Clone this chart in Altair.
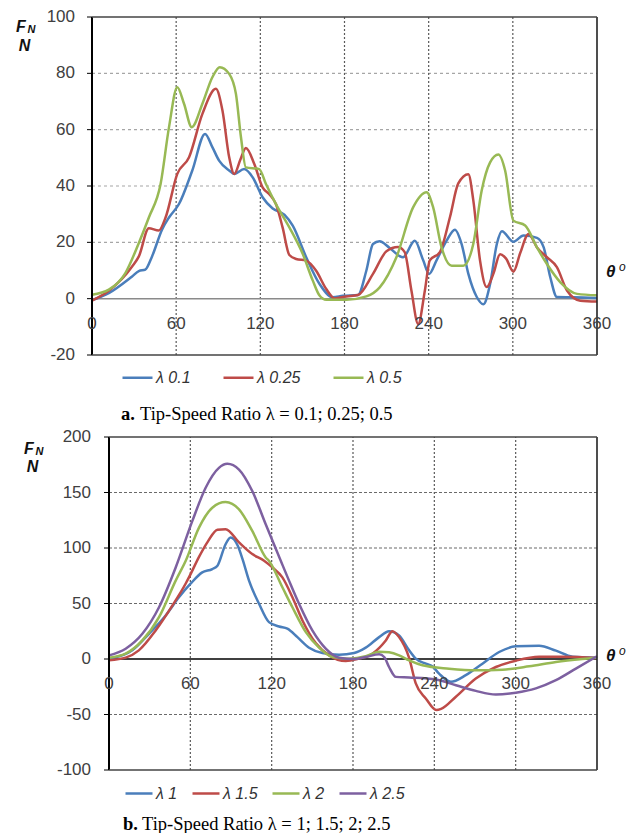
import altair as alt
import pandas as pd

# ---------------- panel a : lambda = 0.1, 0.25, 0.5 ----------------
series_a = ["λ 0.1", "λ 0.25", "λ 0.5"]
colors_a = ["#4A7EBB", "#BE4B48", "#98B954"]

theta_a1 = [0, 12, 28.6, 33.4, 38, 42.8, 49.9, 55, 62, 71.5, 80.6, 85.8, 90.6, 97.8, 101.4, 108.5, 114.5,
            121.6, 128.8, 137.1, 143.1, 152.7, 162.2, 171.7, 178.8, 189.6, 195.6, 200.3, 205, 212.2, 221.7,
            230.1, 236.1, 240.3, 245.6, 252.8, 258.7, 263.5, 268.3, 274.3, 279, 283.8, 288.6, 292.2, 300.4,
            307.6, 317.2, 322, 326.7, 331.4, 343.4, 360]
F_a1 = [-0.5, 2, 7.9, 9.8, 10.3, 15, 24.5, 28.9, 33.6, 45.5, 58.5, 53.8, 49, 45.5, 44.3, 46, 43.1,
        36, 32, 29.8, 25.9, 14.7, 5.2, 0.5, 1, 1.3, 10, 19.4, 20.4, 18, 14.7,
        20.6, 13.6, 8.8, 13.6, 20.6, 24.5, 19.4, 8.8, 0.6, -2, 5.2, 19.4, 23.9, 20.2,
        22.4, 21.6, 18.2, 7.6, 0.6, 0.5, 0.2]

theta_a2 = [0, 12, 28.6, 33.4, 40.5, 47.6, 52.5, 60.8, 69.2, 78.7, 88.3, 93, 97.8, 101.4, 105.8, 109.7,
            115.7, 121.6, 126.4, 131.2, 135.9, 140.7, 145.5, 152.7, 159.8, 167, 173, 181.3, 189.6, 200.3,
            209.9, 218.2, 222.9, 227.7, 232.5, 237.3, 240.8, 248, 255.2, 261.1, 268.3, 271.8, 276.6, 281.4,
            286.1, 290.9, 295.2, 300.4, 305.2, 311.2, 317.2, 324.3, 331.4, 338.6, 348.1, 360]
F_a2 = [-0.7, 2.8, 11.4, 15, 25, 24.2, 28.9, 44.3, 50.2, 65.6, 74.5, 66.8, 50.2, 44.3, 49.4, 53.5,
        47.8, 39.5, 37.1, 33.5, 25.2, 15.5, 14.1, 13.5, 9.9, 3.4, 0.1, 0.8, 1.3, 8.8,
        16.8, 18.3, 16.5, 2.9, -9, 2.9, 13.6, 16.5, 29, 40.9, 44.2, 35, 13.6, 4.1,
        8.8, 15.8, 14.2, 9.6, 16.1, 23, 18.2, 14.7, 11.2, 2.9, -0.7, -1]

theta_a3 = [0, 12, 23.8, 33.4, 40.6, 48.9, 54.9, 60.8, 65.6, 71.1, 78.7, 85.8, 91.1, 97.8, 102.6, 106.2,
            109.7, 119.2, 124, 131.2, 140.7, 150.2, 157.4, 162.2, 167, 181.3, 195.6, 205.1, 217, 228.9,
            238.5, 243.2, 249.2, 256.4, 264.7, 271.8, 277.8, 283.8, 289.7, 294.5, 300.4, 308.8, 317.2,
            324.3, 333.9, 345.8, 360]
F_a3 = [1.4, 3.2, 9.1, 19.8, 28.9, 40.7, 60.9, 75.1, 69.2, 60.9, 69.2, 78.6, 82.2, 79.8, 72.7, 57.3,
        46.6, 46, 40.7, 33.5, 25.3, 15.9, 6.4, 1.1, -0.4, -0.4, 0.8, 4, 14.7, 32.4,
        37.8, 32.4, 18.2, 11.7, 11.7, 19.4, 38.4, 48.4, 51.2, 45.5, 27.7, 26, 18.2,
        12.3, 5.8, 1.7, 1.2]

# ---------------- panel b : lambda = 1, 1.5, 2, 2.5 ----------------
series_b = ["λ 1", "λ 1.5", "λ 2", "λ 2.5"]
colors_b = ["#4A7EBB", "#BE4B48", "#98B954", "#7D60A0"]

theta_b1 = [0, 17.2, 29.5, 41.8, 51.6, 60, 68.8, 76.2, 80, 86, 89.7, 95, 98.5, 103.3, 110.7, 118, 125.5,
            131.6, 139, 147.6, 157.4, 169.7, 180.8, 189.4, 199.3, 206.6, 214, 221.4, 226.3, 233.7, 238.5,
            243.5, 252.2, 263.2, 275.5, 287.8, 300.1, 317.3, 329.7, 342, 360]
F_b1 = [0, 7.8, 22.7, 39.2, 55.6, 67.6, 78, 81, 84, 103.4, 109.4, 102, 90, 70.6, 49.7, 33.2, 29.3,
        27.3, 19.7, 10.2, 5.4, 3.9, 5.4, 10.2, 19.7, 25.1, 21.2, 7.8, 0.3, -4.2, -6.5,
        -13.2, -20.6, -14.6, -4.2, 6.3, 11.4, 12, 7.5, 2.1, 1.2]

theta_b2 = [0, 12.3, 22, 34.4, 46.7, 56.6, 60, 66.4, 73, 80, 86, 95.9, 105.7, 114.4, 120.5, 127.9, 135.3,
            142.7, 152.5, 162.4, 174.7, 183.3, 194.3, 204.2, 209.1, 214, 221.4, 226.3, 233.7, 241.5, 245,
            255.9, 270.6, 285.4, 300.1, 317.3, 334.6, 360]
F_b2 = [-1.2, 1.2, 7.8, 25.7, 48.1, 68, 76, 92, 106, 116.5, 117, 105, 94.5, 88.5, 82.5, 73.5, 55.6,
        34.7, 14.3, 3.3, -1.8, 0, 4.8, 16.7, 25.1, 19.7, 1, -22, -35.5, -46, -45,
        -34, -17.6, -7.2, -1.5, 2.1, 2.1, 0.9]

theta_b3 = [0, 12.3, 24.6, 36.9, 49.2, 56.6, 66.4, 76.2, 86, 95.9, 105.7, 115.6, 118, 127.9, 135.3, 145.2,
            155, 164.8, 177.1, 189.4, 199.3, 206.6, 214, 221.4, 231.2, 250.9, 270.6, 290.3, 310, 329.7,
            349.2, 360]
F_b3 = [1.2, 4.8, 16.7, 37.7, 70.6, 88.5, 118.4, 136.3, 141.4, 134.8, 115.4, 91.5, 88.5, 64.6, 46.6, 24.2,
        10.2, 1.8, 0.3, 2.4, 6.6, 6, 3.3, -1.2, -5.6, -8.7, -10.2, -9.6, -6.6, -2.7,
        0, 1.2]

theta_b4 = [0, 12.3, 24.6, 36.9, 49.2, 61.5, 71.3, 81.1, 87.3, 95.9, 105.7, 115.6, 126.7, 132.8, 140.2,
            150, 159.9, 169.7, 180.8, 189.4, 199.3, 203, 206.6, 211.6, 221.4, 241.1, 255.9, 270.6, 285.4,
            300.1, 314.9, 329.7, 344.4, 360]
F_b4 = [3.3, 9.3, 22.7, 46.6, 82.5, 124.4, 154.3, 172.2, 175.8, 170.7, 151.3, 121.4, 88.5, 70.6, 49.7,
        25.7, 9.3, 1.2, 0, 1.8, 4.2, 1.8, -7.2, -16.1, -16.7, -18.5, -23.6, -28.7, -32,
        -30.4, -26.5, -19.1, -8.7, 2.5]

x_ticks = [0, 60, 120, 180, 240, 300, 360]
y_ticks_a = [-20, 0, 20, 40, 60, 80, 100]
y_ticks_b = [-100, -50, 0, 50, 100, 150, 200]
hgrid_a = [20, 40, 60, 80]
hgrid_b = [-50, 50, 100, 150]
vgrid = [60, 120, 180, 240, 300]

SANS = "Liberation Sans"
SERIF = "Liberation Serif"


def long_df(thetas, values, names):
    rows = []
    for t, f, n in zip(thetas, values, names):
        for a, b in zip(t, f):
            rows.append({"theta": a, "F": b, "series": n})
    return pd.DataFrame(rows)


one = pd.DataFrame({"k": [0]})


def panel(df, names, colors, ymin, ymax, yticks, hgrid, width, height, xrange, lpad,
          hcol, hdash, vcol, vdash, zcol, zw, leg_x, leg_y, sym, colpad,
          th_dy, sup_dy, fn, cap_b, cap_t, cap_x, cap_y):
    if xrange is None:
        xs = alt.Scale(domain=[0, 360], nice=False, zero=False)
    else:
        xs = alt.Scale(domain=[0, 360], nice=False, zero=False, range=xrange)
    ys = alt.Scale(domain=[ymin, ymax], nice=False, zero=False)

    def XD(v):
        return alt.XDatum(v, scale=xs, axis=None)

    def YD(v):
        return alt.YDatum(v, scale=ys, axis=None)

    layers = []
    layers.append(alt.Chart(pd.DataFrame({"v": hgrid})).mark_rule(
        color=hcol, strokeDash=hdash, strokeWidth=1.2).encode(
        y=alt.Y("v:Q", scale=ys, axis=None), x=XD(0), x2=alt.X2Datum(360)))
    layers.append(alt.Chart(pd.DataFrame({"v": vgrid})).mark_rule(
        color=vcol, strokeDash=vdash, strokeWidth=1.2).encode(
        x=alt.X("v:Q", scale=xs, axis=None), y=YD(ymin), y2=alt.Y2Datum(ymax)))
    layers.append(alt.Chart(one).mark_rule(color=zcol, strokeWidth=zw).encode(
        y=YD(0), x=XD(0), x2=alt.X2Datum(360)))

    layers.append(alt.Chart(df).mark_line(interpolate="monotone", strokeWidth=2.5).encode(
        x=alt.X("theta:Q", scale=xs, axis=None),
        y=alt.Y("F:Q", scale=ys, axis=None),
        color=alt.Color("series:N", sort=names,
                        scale=alt.Scale(domain=names, range=colors),
                        legend=alt.Legend(orient="none", legendX=leg_x, legendY=leg_y,
                                          direction="horizontal", columns=len(names),
                                          symbolType="stroke", symbolSize=sym * sym,
                                          symbolStrokeWidth=2.5, labelFont=SANS,
                                          labelFontStyle="italic", labelFontSize=16,
                                          labelColor="#333", columnPadding=colpad,
                                          labelOffset=2, padding=0, title=None)),
    ))

    # frame
    layers.append(alt.Chart(one).mark_rule(color="#000", strokeWidth=2).encode(
        x=XD(0), y=YD(ymin), y2=alt.Y2Datum(ymax)))
    layers.append(alt.Chart(one).mark_rule(color="#222", strokeWidth=1.6).encode(
        x=XD(360), y=YD(ymin), y2=alt.Y2Datum(ymax)))
    layers.append(alt.Chart(one).mark_rule(color="#444", strokeWidth=1.4).encode(
        y=YD(ymax), x=XD(0), x2=alt.X2Datum(360)))
    layers.append(alt.Chart(one).mark_rule(color="#444", strokeWidth=1.4).encode(
        y=YD(ymin), x=XD(0), x2=alt.X2Datum(360)))

    # y ticks and labels (plain hyphen for negatives, as in the original)
    ydf = pd.DataFrame({"v": yticks, "lab": [str(v) for v in yticks]})
    layers.append(alt.Chart(ydf).mark_rule(color="#000", strokeWidth=1, xOffset=-5, x2Offset=0).encode(
        y=alt.Y("v:Q", scale=ys, axis=None), x=XD(0), x2=alt.X2Datum(0)))
    layers.append(alt.Chart(ydf).mark_text(
        font=SANS, fontSize=17, color="#404040", align="right", baseline="middle",
        dx=-(5 + lpad)).encode(
        y=alt.Y("v:Q", scale=ys, axis=None), x=XD(0), text=alt.Text("lab:N")))

    # x tick labels on the zero line
    xdf = pd.DataFrame({"v": x_ticks, "lab": [str(v) for v in x_ticks]})
    layers.append(alt.Chart(xdf).mark_text(
        font=SANS, fontSize=17, color="#404040", baseline="middle", dy=25).encode(
        x=alt.X("v:Q", scale=xs, axis=None), y=YD(0), text=alt.Text("lab:N")))

    # theta label
    layers.append(alt.Chart(one).mark_text(
        text="θ", font=SANS, fontSize=17, fontWeight="bold", fontStyle="italic",
        align="left", baseline="middle", dx=9, dy=th_dy, color="#111").encode(x=XD(360), y=YD(0)))
    layers.append(alt.Chart(one).mark_text(
        text="o", font=SANS, fontSize=12, fontStyle="italic",
        align="left", baseline="middle", dx=22, dy=sup_dy, color="#111").encode(x=XD(360), y=YD(0)))

    # F_N / N label
    fx, fy = fn
    layers.append(alt.Chart(one).mark_text(
        text="F", font=SANS, fontSize=16, fontWeight="bold", fontStyle="italic",
        align="center", baseline="middle", color="#111").encode(x=alt.value(fx), y=alt.value(fy)))
    layers.append(alt.Chart(one).mark_text(
        text="N", font=SANS, fontSize=11, fontWeight="bold", fontStyle="italic",
        align="center", baseline="middle", color="#111").encode(x=alt.value(fx + 10.5), y=alt.value(fy + 3)))
    layers.append(alt.Chart(one).mark_text(
        text="N", font=SANS, fontSize=16, fontWeight="bold", fontStyle="italic",
        align="center", baseline="middle", color="#111").encode(x=alt.value(fx + 3.5), y=alt.value(fy + 18.5)))

    # caption
    layers.append(alt.Chart(one).mark_text(
        text=cap_b, font=SERIF, fontSize=18.5, fontWeight="bold", align="left",
        baseline="middle", color="#000").encode(x=alt.value(cap_x), y=alt.value(cap_y)))
    layers.append(alt.Chart(one).mark_text(
        text=cap_t, font=SERIF, fontSize=18.5, align="left",
        baseline="middle", color="#000").encode(x=alt.value(cap_x + 19), y=alt.value(cap_y)))

    return alt.layer(*layers).properties(width=width, height=height)


df_a = long_df([theta_a1, theta_a2, theta_a3], [F_a1, F_a2, F_a3], series_a)
df_b = long_df([theta_b1, theta_b2, theta_b3, theta_b4], [F_b1, F_b2, F_b3, F_b4], series_b)

top = panel(df_a, series_a, colors_a, -20, 100, y_ticks_a, hgrid_a, 505, 338, None, 12,
            "#a6a6a6", [3, 3], "#595959", [2, 2], "#8a8a8a", 1.5, 29, 344, 30, 27,
            -27, -31.5, (-71, 10), "a.", "Tip-Speed Ratio λ = 0.1; 0.25; 0.5", 29, 397)

bottom = panel(df_b, series_b, colors_b, -100, 200, y_ticks_b, hgrid_b, 505, 333, [17, 505], 13,
               "#6a6a6a", [3, 2], "#595959", [2, 2], "#404040", 2, 32, 341.5, 27, 9,
               -3, -8, (-63, 11.5), "b.", "Tip-Speed Ratio λ = 1; 1.5; 2; 2.5", 31, 386.5)

chart = alt.vconcat(top, bottom, spacing=82, bounds="flush",
                    padding={"left": 8, "top": 0, "right": 0, "bottom": 0}).resolve_scale(
    color="independent", x="independent", y="independent").resolve_legend(
    color="independent").configure_view(stroke=None)

chart.save("out.html", embed_options={"renderer": "svg", "actions": False})
